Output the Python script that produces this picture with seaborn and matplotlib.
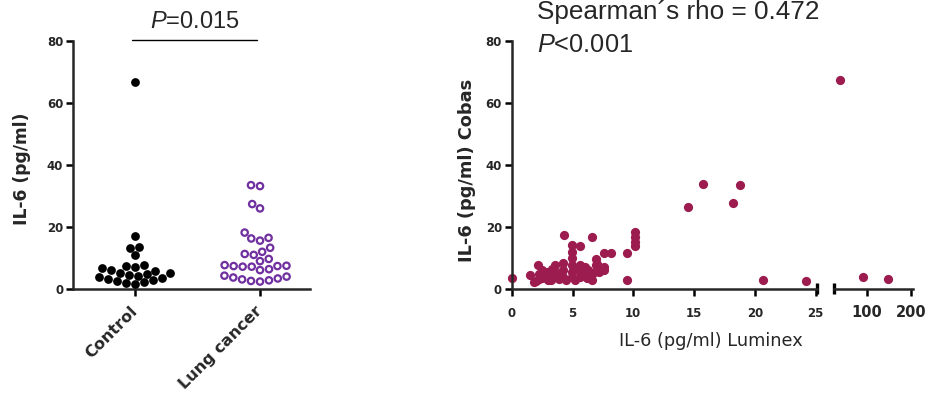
import matplotlib
matplotlib.use("Agg")
import numpy as np
import pandas as pd
import seaborn as sns
import matplotlib.pyplot as plt

# ---------------- data ----------------
groups = ["Control", "Lung cancer"]
control_il6 = [66.9, 17.2, 13.6, 13.3, 11.0, 7.7, 7.5, 7.2, 6.7, 6.1, 5.9, 5.3, 5.1,
               5.0, 4.6, 4.3, 4.0, 3.6, 3.2, 2.8, 2.6, 2.3, 1.9, 1.6]
lung_il6 = [33.5, 33.2, 27.4, 26.0, 18.2, 16.5, 16.3, 15.6, 13.3, 12.0, 11.3, 11.0,
            9.7, 9.0, 7.7, 7.5, 7.4, 7.4, 7.2, 7.2, 6.4, 6.1,
            4.3, 4.0, 3.7, 3.4, 3.1, 2.8, 2.6, 2.4]

luminex = [0.05, 1.5, 1.86, 2.2, 2.27, 2.27, 2.88, 2.96, 3.56, 3.56, 3.56, 4.3,
           4.25, 4.25, 4.25, 4.93, 4.93, 4.93, 4.93, 4.93, 4.93, 5.6, 5.6, 5.6, 5.6,
           6.3, 6.6, 6.6, 6.9, 6.9, 7.6, 8.2, 7.6, 7.6, 9.46, 9.46,
           10.1, 10.1, 10.1, 10.1, 2.0, 2.5, 3.0, 3.2, 3.9, 3.9, 4.5, 5.2, 5.2,
           5.9, 6.0, 6.2, 6.7, 7.2, 3.3, 2.5, 7.0,
           14.5, 15.7, 18.2, 18.8, 20.7, 24.2, 39.4, 90.9, 148.4]
cobas = [3.4, 4.3, 2.1, 7.5, 4.8, 3.2, 5.4, 2.7, 7.5, 5.4, 3.7, 17.4,
         8.1, 5.9, 3.7, 14.0, 11.8, 9.7, 7.5, 5.4, 3.7, 13.6, 7.5, 5.4, 3.7,
         5.9, 2.7, 16.7, 9.5, 7.5, 11.3, 11.3, 7.0, 5.9, 11.3, 2.9,
         18.3, 16.7, 15.0, 13.6, 2.5, 3.5, 4.5, 2.8, 3.0, 4.8, 2.6, 2.9, 6.2,
         4.6, 6.8, 3.5, 5.0, 5.2, 6.3, 6.0, 7.8,
         26.3, 33.8, 27.6, 33.5, 2.7, 2.4, 67.1, 3.7, 3.2]

y_ticks = [0, 20, 40, 60, 80]
x_ticks_low = [0, 5, 10, 15, 20, 25]
x_ticks_high = [100, 200]

# ---------------- style ----------------
sns.set_style("ticks")
plt.rcParams["font.family"] = ["DejaVu Sans"]
plt.rcParams["mathtext.fontset"] = "custom"
plt.rcParams["mathtext.rm"] = "Liberation Sans"
plt.rcParams["mathtext.it"] = "Liberation Sans:italic"

BLACK = "black"
PURPLE = "#7030A0"
MAROON = "#9C1C4F"
SPINE_W = 1.8

W, H = 928, 397
fig = plt.figure(figsize=(W / 100, H / 100), dpi=100)


def box(x0, x1, ytop, ybot):
    return [x0 / W, 1 - ybot / H, (x1 - x0) / W, (ybot - ytop) / H]


def style_axes(ax):
    for s in ["top", "right"]:
        ax.spines[s].set_visible(False)
    for s in ["left", "bottom"]:
        ax.spines[s].set_linewidth(SPINE_W)
    ax.tick_params(width=SPINE_W, length=5, color="black")


# ---------------- left panel ----------------
ax1 = fig.add_axes(box(73, 310, 41, 289))
df = pd.DataFrame({"group": ["Control"] * len(control_il6) + ["Lung cancer"] * len(lung_il6),
                   "il6": control_il6 + lung_il6})
sns.swarmplot(data=df[df.group == "Control"], x="group", y="il6", order=groups,
              color=BLACK, size=6.3, linewidth=0, ax=ax1)
sns.swarmplot(data=df[df.group == "Lung cancer"], x="group", y="il6", order=groups,
              color=PURPLE, size=4.6, linewidth=1.5, ax=ax1)
coll = ax1.collections[-1]
coll.set_facecolor("none")
coll.set_edgecolor(PURPLE)
coll.set_linewidth(1.6)
for c in ax1.collections:
    c.set_clip_on(False)

ax1.set_xlim(-0.496, 1.4)
ax1.set_ylim(0, 80)
ax1.set_yticks(y_ticks)
ax1.set_yticklabels([str(v) for v in y_ticks], fontsize=8.5, fontweight="bold")
ax1.set_xlabel("")
ax1.set_ylabel("")
style_axes(ax1)
ax1.tick_params(axis="y", pad=2)
ax1.tick_params(axis="x", pad=9)
ax1.set_xticks([0, 1])
ax1.set_xticklabels(groups, rotation=45, ha="right", va="center",
                    rotation_mode="anchor", fontsize=11.5, fontweight="bold")
ax1.plot([-0.024, 0.976], [80.3, 80.3], color="black", lw=1.0, clip_on=False)
fig.text(195 / W, 1 - 28 / H, r"$P$=0.015", fontsize=17, family="Liberation Sans",
         ha="center", va="baseline")
fig.text(22 / W, 1 - 169 / H, "IL-6 (pg/ml)", rotation=90, ha="center", va="center",
         fontsize=12.3, fontweight="bold")

# ---------------- right panel ----------------
lum = np.array(luminex)
cob = np.array(cobas)
low = lum <= 25
ax2 = fig.add_axes(box(511.7, 816.7, 40.5, 288.5))
sns.scatterplot(x=lum[low], y=cob[low], color=MAROON, s=44, linewidth=0, ax=ax2,
                clip_on=False)
ax2.set_xlim(0, 25.08)
ax2.set_ylim(0, 80)
ax2.set_xticks(x_ticks_low)
ax2.set_xticklabels([str(v) for v in x_ticks_low], fontsize=8.5, fontweight="bold")
ax2.set_yticks(y_ticks)
ax2.set_yticklabels([str(v) for v in y_ticks], fontsize=8.5, fontweight="bold")
style_axes(ax2)
ax2.tick_params(axis="x", pad=8)
ax2.tick_params(axis="y", pad=2)

ax3 = fig.add_axes(box(834, 913, 40.5, 288.5))
sns.scatterplot(x=lum[~low], y=cob[~low], color=MAROON, s=44, linewidth=0, ax=ax3,
                clip_on=False)
ax3.set_xlim(25.7, 205.2)
ax3.set_ylim(0, 80)
ax3.set_xticks(x_ticks_high)
ax3.set_xticklabels([str(v) for v in x_ticks_high], fontsize=10.5, fontweight="bold")
style_axes(ax3)
ax3.spines["left"].set_visible(False)
ax3.set_yticks([])
ax3.tick_params(axis="x", pad=7)
ax3.patch.set_alpha(0)

# break marks
for ax, xa in [(ax2, 1.0), (ax3, 0.0)]:
    ax.plot([xa, xa], [-0.022, 0.022], transform=ax.transAxes, color="black",
            lw=SPINE_W + 0.6, clip_on=False, solid_capstyle="butt")

fig.text(711 / W, 1 - 341 / H, "IL-6 (pg/ml) Luminex", ha="center", va="center",
         fontsize=12.8)
fig.text(467 / W, 1 - 170 / H, "IL-6 (pg/ml) Cobas", rotation=90, ha="center",
         va="center", fontsize=12.8, fontweight="bold")
fig.text(537 / W, 1 - 19 / H, "Spearman´s rho = 0.472", fontsize=18.8,
         family="Liberation Sans", ha="left", va="baseline")
fig.text(537 / W, 1 - 52 / H, r"$P$<0.001", fontsize=18.3,
         family="Liberation Sans", ha="left", va="baseline")

fig.savefig("out.png", dpi=100)
